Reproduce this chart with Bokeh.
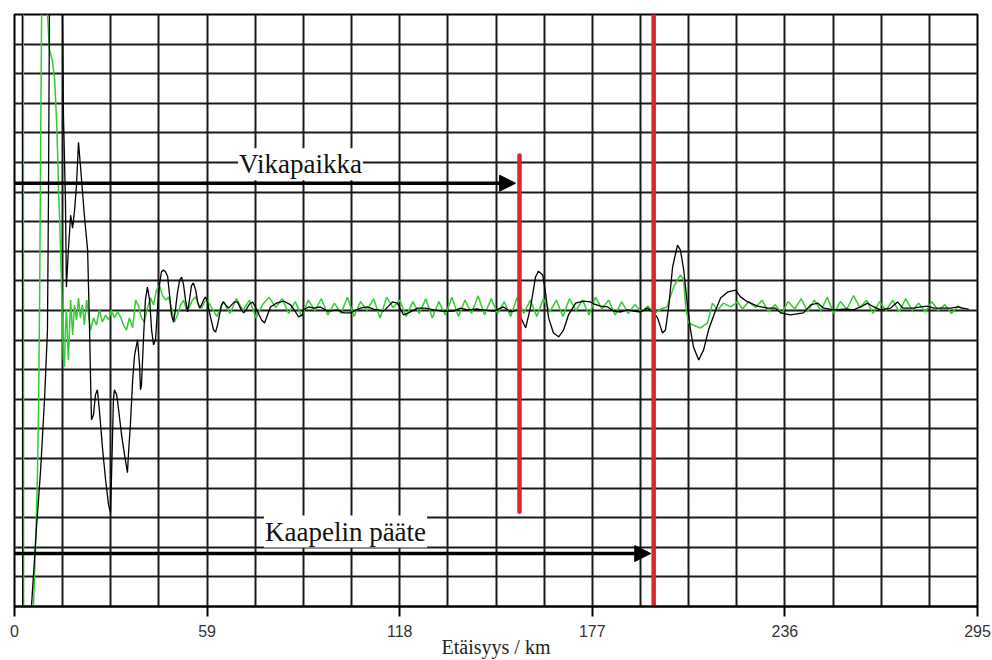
from bokeh.plotting import figure
from bokeh.models import Range1d, FixedTicker, Label, Arrow, NormalHead
from bokeh.embed import file_html
from bokeh.resources import INLINE

# ---------------- data ----------------
tick_km = [0, 59, 118, 177, 236, 295]
grid_km = [round(i * 14.75, 2) for i in range(21)]
grid_amp = list(range(-10, 11))

fault_km = 154.7          # Vikapaikka
cable_end_km = 195.8      # Kaapelin pääte
fault_marker_amp = [-6.8, 5.24]

# black trace (km, amplitude in divisions)
black_trace = [
    (2.4, 11.5), (2.5, -11.5), (4.6, -11.5), (5.2, -10.0), (6.7, -7.4), (8.0, -5.39), (9.2, -3.0),
    (10.1, -0.66), (10.4, 3.73), (10.7, 10.0), (11.6, 17.2), (13.2, 18.9), (14.4, 12.2), (14.7, 10.0),
    (15.0, 6.59), (15.6, 3.73), (15.9, 0.79), (16.5, 2.04), (17.2, 3.22), (17.8, 2.78), (18.4, 3.39),
    (19.0, 4.23), (19.6, 5.68), (20.2, 4.9), (20.8, 4.06), (21.4, 3.22), (22.4, 2.04), (23.0, -0.66),
    (23.3, -2.34), (23.6, -3.69), (24.2, -3.52), (24.8, -2.85), (25.4, -2.68), (26.0, -3.36),
    (27.0, -4.7), (27.9, -5.72), (28.8, -6.56), (29.4, -6.83), (29.7, -5.72), (30.0, -4.37),
    (30.3, -3.02), (30.6, -2.68), (31.3, -2.85), (31.9, -3.36), (32.8, -4.2), (33.7, -4.87),
    (34.6, -5.48), (34.9, -4.87), (35.5, -3.86), (36.2, -2.34), (36.8, -1.5), (37.7, -0.99),
    (38.3, -1.84), (38.6, -2.68), (38.9, -2.51), (39.5, -0.99), (40.1, 0.35), (40.7, 0.79),
    (41.4, 0.35), (42.0, -0.66), (42.6, -1.16), (43.2, -0.99), (43.8, 0.02), (44.4, 0.86),
    (45.0, 1.3), (45.6, 1.37), (46.3, 1.3), (46.9, 1.16), (47.5, 0.52), (48.1, -0.15), (48.7, -0.39),
    (49.3, 0.02), (49.9, 0.59), (50.6, 1.03), (51.2, 1.13), (51.8, 0.86), (52.4, 0.35), (53.0, -0.05),
    (53.6, 0.35), (54.2, 0.83), (54.8, 0.93), (55.5, 0.69), (56.1, 0.29), (56.7, 0.08), (57.3, 0.19),
    (57.9, 0.35), (58.5, 0.46), (59.1, 0.29), (59.7, -0.05), (60.4, -0.39), (61.0, -0.66),
    (61.6, -0.73), (62.2, -0.49), (62.8, -0.15), (63.4, 0.19), (64.0, 0.29), (65.0, 0.15),
    (65.6, 0.08), (66.5, 0.19), (67.4, 0.29), (68.3, 0.29), (69.2, 0.08), (70.2, -0.08), (71.1, 0.05),
    (72.0, 0.22), (72.9, 0.29), (73.8, 0.12), (74.8, -0.12), (75.7, -0.32), (76.6, -0.42),
    (78.4, 0.12), (80.3, 0.25), (82.4, 0.32), (84.6, 0.19), (86.1, -0.05), (87.0, -0.22),
    (88.2, -0.15), (88.5, 0.02), (90.1, 0.12), (91.6, 0.08), (93.7, 0.12), (95.9, -0.02),
    (99.0, 0.02), (100.8, -0.08), (102.9, -0.08), (106.0, 0.08), (108.1, 0.12), (110.0, 0.05),
    (113.1, -0.02), (115.8, 0.29), (117.3, 0.25), (119.2, -0.15), (120.7, -0.08), (123.5, 0.08),
    (125.9, 0.08), (128.4, 0.02), (131.1, -0.02), (134.5, -0.02), (136.6, 0.08), (138.8, 0.02),
    (141.8, 0.05), (146.8, -0.02), (149.8, 0.12), (152.0, -0.05), (154.1, 0.02), (155.0, -0.22),
    (156.6, -0.59), (158.1, 0.12), (159.6, 1.13), (160.5, 1.33), (161.8, 1.2), (162.7, 0.59),
    (163.6, -0.25), (165.1, -0.76), (166.7, -0.89), (168.2, -0.66), (169.7, -0.15), (171.9, 0.25),
    (174.3, 0.32), (176.5, 0.29), (177.4, 0.22), (179.5, 0.15), (181.7, 0.12), (183.5, -0.02),
    (185.7, -0.05), (187.8, 0.02), (189.6, -0.02), (191.8, -0.05), (193.9, 0.08), (195.5, -0.05),
    (197.0, -0.25), (198.5, -0.76), (199.4, -0.66), (200.4, 0.12), (201.6, 1.47), (203.1, 2.21),
    (204.0, 2.04), (205.0, 1.37), (206.2, 0.12), (207.1, -0.66), (208.0, -1.23), (209.6, -1.67),
    (211.1, -1.33), (212.6, -0.66), (214.8, 0.02), (216.3, 0.42), (218.4, 0.62), (220.9, 0.69),
    (222.4, 0.46), (224.6, 0.29), (227.6, 0.15), (230.7, 0.08), (233.1, 0.08), (234.7, -0.08),
    (237.7, -0.15), (241.7, -0.08), (243.9, 0.19), (246.0, 0.25), (247.9, 0.08), (250.9, 0.02),
    (255.2, 0.05), (257.0, 0.02), (259.2, 0.12), (261.3, 0.25), (263.2, 0.12), (265.3, 0.02),
    (268.4, 0.08), (270.5, 0.29), (272.1, 0.08), (275.4, 0.08), (277.6, 0.12), (279.7, 0.15),
    (281.6, 0.08), (286.8, 0.08), (288.9, 0.12), (290.4, 0.08), (292.3, 0.05),
]

# green trace (km, amplitude in divisions)
green_trace = [
    (2.7, 11.5), (2.8, -11.5), (5.5, -11.5), (5.8, -10.0), (6.4, -8.1), (7.0, -5.71), (7.4, -3.02),
    (7.7, 0.35), (8.0, 5.41), (8.3, 10.0), (9.2, 12.0), (10.1, 10.0), (10.7, 8.8), (11.6, 8.45),
    (12.3, 7.8), (12.6, 7.1), (12.9, 6.4), (13.2, 5.35), (13.5, 4.0), (13.8, 3.2), (14.1, 2.04),
    (14.4, 0.93), (14.7, -0.66), (15.0, -1.67), (15.3, -1.9), (15.6, -0.66), (15.9, 0.02),
    (16.5, -1.67), (17.2, 0.35), (17.8, -0.83), (18.4, 0.19), (19.0, -0.32), (19.6, 0.42),
    (20.2, -0.25), (20.8, 0.19), (21.4, -0.49), (22.1, 0.35), (22.7, -0.15), (23.3, -0.66),
    (24.2, -0.25), (25.1, -0.49), (26.0, 0.02), (26.9, -0.39), (27.9, -0.15), (28.8, -0.32),
    (29.7, 0.02), (30.6, -0.25), (31.6, -0.05), (32.5, -0.22), (33.4, -0.49), (34.3, -0.66),
    (35.2, -0.25), (36.2, -0.59), (37.1, 0.35), (38.0, 0.15), (38.9, -0.25), (39.8, -0.39),
    (40.7, 0.08), (41.7, 0.42), (42.6, 0.19), (43.5, 0.69), (44.4, 0.86), (45.3, 0.52), (46.3, 0.35),
    (47.2, 0.46), (48.1, 0.08), (49.0, -0.39), (49.9, -0.15), (50.9, 0.19), (51.8, 0.35),
    (52.7, 0.02), (53.6, 0.12), (54.5, 0.35), (55.5, 0.46), (56.4, 0.19), (57.3, 0.08), (58.2, 0.29),
    (59.1, 0.35), (60.1, 0.15), (62, -0.2), (64, 0.3), (66, -0.1), (68, 0.4), (70, 0.0), (72, 0.35),
    (74, -0.25), (76, 0.2), (78, 0.45), (80, 0.1), (82, 0.4), (84, -0.1), (86, 0.3), (88, -0.2),
    (90, 0.35), (92, 0.0), (94, 0.4), (96, -0.15), (98, 0.25), (100, -0.1), (102, 0.45), (104, -0.2),
    (106, 0.3), (108, 0.0), (110, 0.4), (112, -0.25), (114, 0.45), (116, 0.1), (118, 0.35),
    (120, -0.2), (122, 0.3), (124, -0.1), (126, 0.4), (128, -0.25), (130, 0.3), (132, -0.15),
    (134, 0.45), (136, -0.2), (138, 0.35), (140, -0.1), (142, 0.5), (144, -0.15), (146, 0.4),
    (148, -0.1), (150, 0.3), (152, -0.2), (154, 0.45), (156, -0.1), (158, 0.35), (160, -0.2),
    (162, 0.4), (164, -0.05), (166, 0.35), (168, -0.2), (170, 0.4), (172, 0.0), (174, 0.35),
    (176, -0.15), (178, 0.45), (180, 0.05), (182, 0.35), (184, -0.15), (186, 0.3), (188, -0.1),
    (190, 0.2), (192, -0.05), (194, 0.15), (196, -0.1), (198, 0.05), (199.9, 0.12), (201.9, 0.79),
    (204.0, 1.2), (205.0, 1.03), (205.6, 0.12), (206.5, -0.42), (208.0, -0.5), (210.2, -0.59),
    (212.3, -0.42), (213.8, 0.25), (215.4, 0.02), (217.2, 0.25), (219.4, 0.12), (221.5, 0.29),
    (223, 0.05), (225, 0.3), (227, 0.1), (229, 0.35), (231, -0.05), (233, 0.2), (235, -0.1),
    (237, 0.3), (239, 0.05), (241, 0.4), (243, -0.05), (245, 0.35), (247, 0.0), (249, 0.45),
    (251, -0.1), (253, 0.3), (255, 0.05), (257, 0.5), (259, 0.1), (261, 0.35), (263, -0.1),
    (265, 0.3), (267, 0.0), (269, 0.35), (271, -0.05), (273, 0.4), (275, 0.0), (277, 0.25),
    (279, -0.05), (281, 0.3), (283, 0.0), (285, 0.2), (287, -0.1), (289, 0.15), (291, 0.05),
]

black_km = [k for k, _ in black_trace]
black_amp = [a for _, a in black_trace]
green_km = [k for k, _ in green_trace]
green_amp = [a for _, a in green_trace]

# ---------------- figure ----------------
p = figure(width=992, height=660, x_range=Range1d(0, 295), y_range=Range1d(-10, 10),
           output_backend="svg", toolbar_location=None, y_axis_location=None,
           min_border_left=14, min_border_right=15, min_border_top=14, min_border_bottom=53)
p.background_fill_color = "white"
p.border_fill_color = "white"
p.outline_line_color = "black"
p.outline_line_width = 2

p.xgrid.ticker = FixedTicker(ticks=grid_km)
p.ygrid.ticker = FixedTicker(ticks=grid_amp)
for g in (p.xgrid, p.ygrid):
    g.grid_line_color = "#1a1a1a"
    g.grid_line_width = 2
    g.grid_line_alpha = 1.0

ax = p.xaxis[0]
ax.ticker = FixedTicker(ticks=tick_km)
ax.axis_line_width = 2
ax.axis_line_color = "black"
ax.major_tick_line_width = 2
ax.major_tick_line_color = "black"
ax.major_tick_out = 10
ax.major_tick_in = 0
ax.minor_tick_out = 0
ax.minor_tick_in = 0
ax.major_label_standoff = 8
ax.major_label_text_font = "Liberation Sans"
ax.major_label_text_font_size = "16px"
ax.major_label_text_color = "#333333"
ax.axis_label = "Etäisyys / km"
ax.axis_label_text_font = "Liberation Serif"
ax.axis_label_text_font_size = "20px"
ax.axis_label_text_font_style = "normal"
ax.axis_label_text_color = "#222222"
ax.axis_label_standoff = -4

p.line(green_km, green_amp, line_color="#33cc33", line_width=1.5)
p.line(black_km, black_amp, line_color="black", line_width=1.3)

p.segment(x0=[fault_km, cable_end_km], y0=[fault_marker_amp[0], -10.5],
          x1=[fault_km, cable_end_km], y1=[fault_marker_amp[1], 10.5],
          line_color="#d7282f", line_width=4.5, line_cap="round")

p.add_layout(Arrow(end=NormalHead(size=16, fill_color="black", line_color="black", line_width=1),
                   x_start=-0.6, y_start=4.3, x_end=153.5, y_end=4.3,
                   line_color="black", line_width=3.5))
p.add_layout(Arrow(end=NormalHead(size=16, fill_color="black", line_color="black", line_width=1),
                   x_start=-0.6, y_start=-8.21, x_end=194.9, y_end=-8.21,
                   line_color="black", line_width=3.5))

p.add_layout(Label(x=87.6, y=4.94, text="Vikapaikka", text_font="Liberation Serif",
                   text_font_size="27px", text_color="#111111", text_align="center",
                   text_baseline="middle", background_fill_color="white",
                   background_fill_alpha=1.0, padding=1))
p.add_layout(Label(x=101.4, y=-7.47, text="Kaapelin pääte", text_font="Liberation Serif",
                   text_font_size="27px", text_color="#111111", text_align="center",
                   text_baseline="middle", background_fill_color="white",
                   background_fill_alpha=1.0, padding=1))

open("out.html", "w").write(file_html(p, INLINE))
